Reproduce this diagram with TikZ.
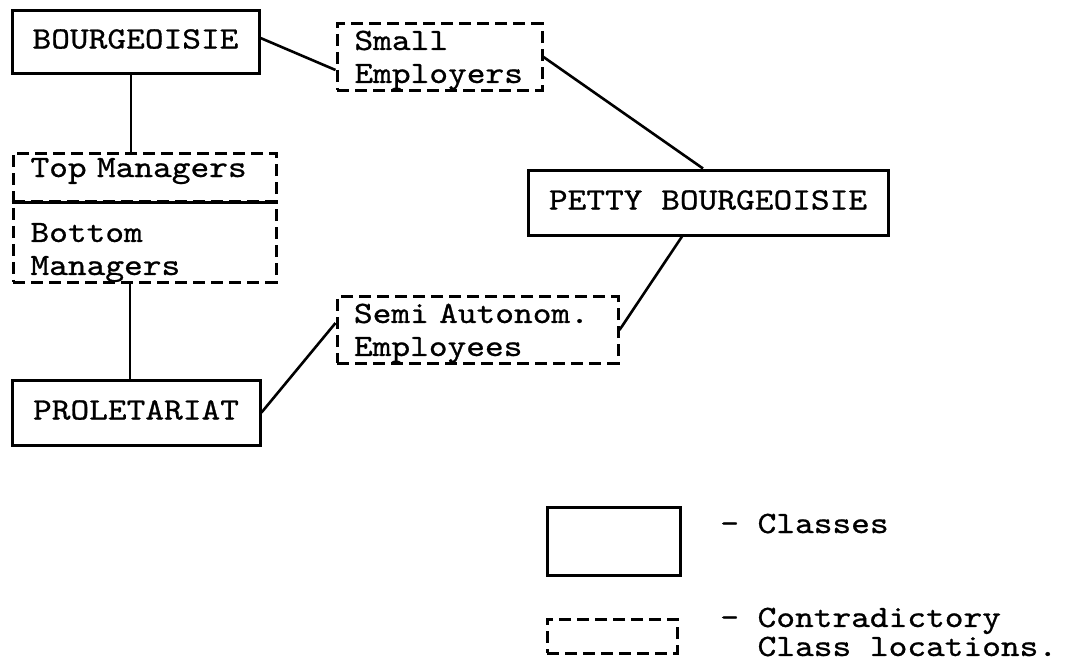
\documentclass[tikz,border=0pt]{standalone}
\usepackage{fontspec}
\usepackage{tikz}
\usetikzlibrary{positioning}

\newfontfamily\typerfont{lmmono10-regular.otf}[FakeStretch=1.15, FakeBold=0.8, WordSpace={1,0,0}]

\begin{document}
\begin{tikzpicture}[
  x=1pt, y=-1pt,
  every node/.style={font=\fontsize{31}{33}\selectfont\typerfont, inner sep=0pt},
  class/.style={draw, line width=3pt, text height=19pt, text depth=5pt},
  contra/.style={draw, line width=3pt, dash pattern=on 12pt off 6pt, align=left},
  link/.style={line width=2.6pt}
]
\useasboundingbox (0,0) rectangle (1067,664);

% classes
\node[class, minimum width=247pt, minimum height=63pt] (bour) at (135.5,41.5) {BOURGEOISIE};
\node[class, minimum width=360pt, minimum height=65pt] (petty) at (708,202.5) {PETTY BOURGEOISIE};
\node[class, minimum width=248pt, minimum height=65pt] (prol) at (136,412.5) {PROLETARIAT};

% contradictory locations
\node[contra, minimum width=205pt, minimum height=64pt, text width=170pt] (smallemp) at (439.5,57) {\rule{0pt}{26pt}Small\\Employers};
\node[contra, minimum width=263pt, minimum height=48pt, text width=228pt, text height=12pt, text depth=12pt] (topmgr) at (144.5,177) {Top Managers};
\node[contra, minimum width=263pt, text width=228pt] (botmgr) at (144.5,242) {\rule{0pt}{40pt}Bottom\\Managers};
\node[contra, minimum width=281pt, minimum height=64pt, text width=247pt] (semi) at (477.5,330) {\rule{0pt}{26pt}Semi Autonom.\\Employees};
\draw[line width=3pt] (topmgr.south west) -- (topmgr.south east);

% links
\coordinate (bourfoot) at ([xshift=-4.5pt]bour.south);
\coordinate (prolhead) at ([xshift=-6pt]prol.north);
\draw[link] (bourfoot) -- (bourfoot |- topmgr.north);
\draw[link] (prolhead) -- (prolhead |- botmgr.south);
\draw[link] ([yshift=3.5pt]bour.east) -- ([yshift=-13pt]smallemp.west);
\draw[link] (smallemp.east) -- ([xshift=-5pt]petty.north);
\draw[link] ([xshift=-26pt]petty.south) -- (semi.east);
\draw[link] (prol.east) -- ([yshift=7pt]semi.west);

% legend
\node[class, minimum width=133pt, minimum height=68pt] (legclass) at (613.5,541) {};
\node[contra, minimum width=130pt, minimum height=34pt] (legcontra) at (612,636) {};
\node[anchor=base west] (legclass-t) at (720,533) {- Classes};
\node[anchor=west, align=left, font=\fontsize{31}{29}\selectfont\typerfont] (legcontra-t) at (720,632) {- Contradictory\\\phantom{- }Class locations.};
\end{tikzpicture}
\end{document}
